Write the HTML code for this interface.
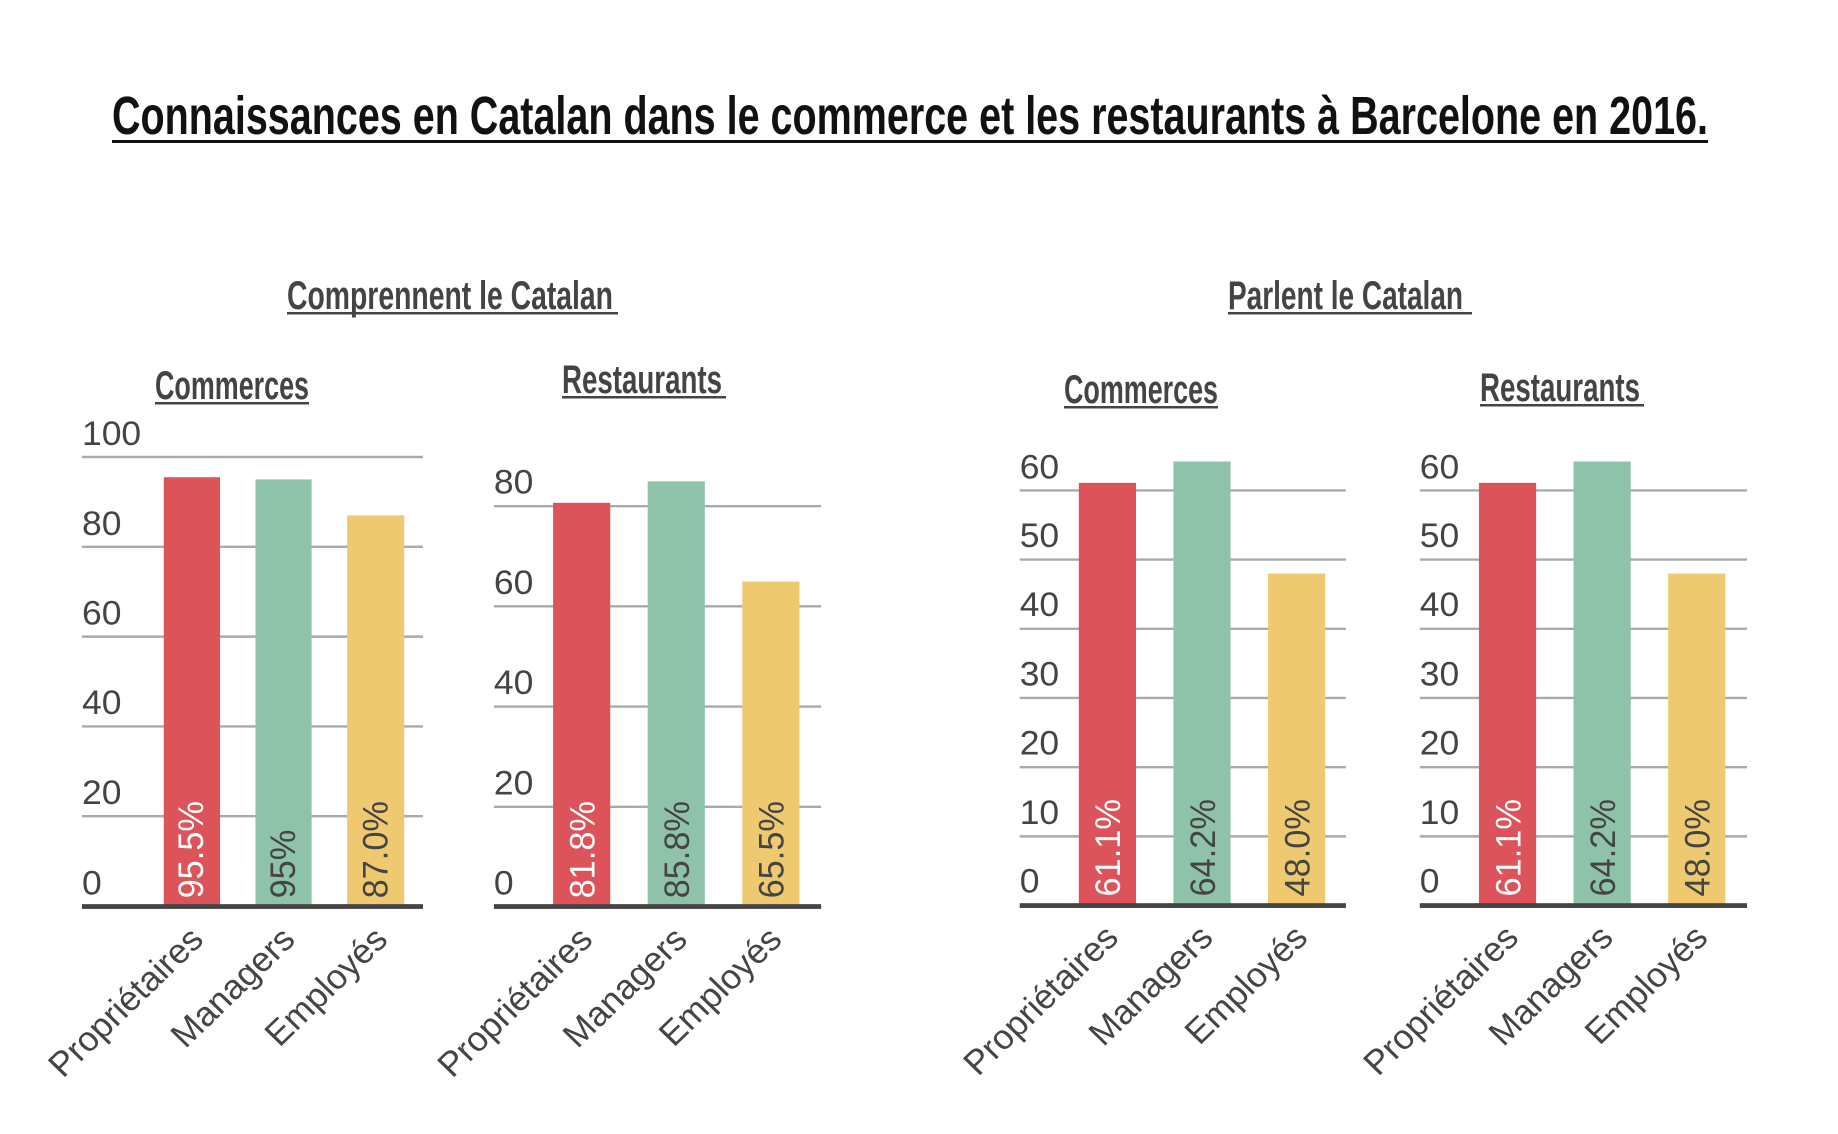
<!DOCTYPE html>
<html><head><meta charset="utf-8"><style>html,body{margin:0;padding:0;background:#fff}svg{display:block}</style></head>
<body>
<svg width="1838" height="1134" viewBox="0 0 1838 1134" xmlns="http://www.w3.org/2000/svg">
<rect width="1838" height="1134" fill="#fff"/>
<text x="112" y="134" font-family="Liberation Sans Narrow, Liberation Sans, sans-serif" font-weight="bold" font-size="54" fill="#111" textLength="1596" lengthAdjust="spacingAndGlyphs">Connaissances en Catalan dans le commerce et les restaurants à Barcelone en 2016.</text>
<rect x="112" y="140" width="1596" height="3" fill="#111"/>

<g font-family="Liberation Sans Narrow, Liberation Sans, sans-serif" font-weight="bold" fill="#444" font-size="40">
<text x="287" y="309" textLength="326" lengthAdjust="spacingAndGlyphs">Comprennent le Catalan</text>
<rect x="287" y="312" width="331" height="2.5" fill="#444"/>
<text x="1228" y="309" textLength="235" lengthAdjust="spacingAndGlyphs">Parlent le Catalan</text>
<rect x="1228" y="312" width="244" height="2.5" fill="#444"/>
<text x="155" y="399" textLength="154" lengthAdjust="spacingAndGlyphs">Commerces</text>
<rect x="155" y="402" width="154" height="2.5" fill="#444"/>
<text x="562" y="393" textLength="160" lengthAdjust="spacingAndGlyphs">Restaurants</text>
<rect x="562" y="396" width="164" height="2.5" fill="#444"/>
<text x="1064" y="403" textLength="154" lengthAdjust="spacingAndGlyphs">Commerces</text>
<rect x="1064" y="406" width="154" height="2.5" fill="#444"/>
<text x="1480" y="401" textLength="160" lengthAdjust="spacingAndGlyphs">Restaurants</text>
<rect x="1480" y="404" width="164" height="2.5" fill="#444"/>
</g>

<g transform="matrix(0.9855 0 0 0.9544 1.19 10.82)">
<g font-family="Liberation Sans, sans-serif" font-size="36" fill="#444">
<!-- Chart 1 -->
<g stroke="#aaa" stroke-width="2.5">
<line x1="82" x2="428" y1="467.5" y2="467.5"/><line x1="82" x2="428" y1="561.6" y2="561.6"/><line x1="82" x2="428" y1="655.7" y2="655.7"/><line x1="82" x2="428" y1="749.8" y2="749.8"/><line x1="82" x2="428" y1="843.9" y2="843.9"/>
</g>
<text x="82" y="455">100</text><text x="82" y="549">80</text><text x="82" y="643">60</text><text x="82" y="737">40</text><text x="82" y="831">20</text><text x="82" y="926">0</text>
<rect x="165" y="488.7" width="57" height="450" fill="#DC535A"/>
<rect x="258" y="491" width="57" height="448" fill="#8FC3A9"/>
<rect x="351" y="528.7" width="58" height="410" fill="#EEC970"/>
<rect x="82" y="936" width="346" height="5" fill="#444"/>
<!-- Chart 2 -->
<g stroke="#aaa" stroke-width="2.5">
<line x1="500" x2="832" y1="519" y2="519"/><line x1="500" x2="832" y1="624" y2="624"/><line x1="500" x2="832" y1="729" y2="729"/><line x1="500" x2="832" y1="834" y2="834"/>
</g>
<text x="500" y="506">80</text><text x="500" y="611">60</text><text x="500" y="716">40</text><text x="500" y="821">20</text><text x="500" y="926">0</text>
<rect x="560" y="515.5" width="58" height="424" fill="#DC535A"/>
<rect x="656" y="493" width="58" height="446" fill="#8FC3A9"/>
<rect x="752" y="598" width="58" height="341" fill="#EEC970"/>
<rect x="500" y="936" width="332" height="5" fill="#444"/>
<g transform="translate(13.5,0)">
<!-- Chart 3 -->
<g stroke="#aaa" stroke-width="2.5">
<line x1="1020" x2="1351" y1="502.5" y2="502.5"/><line x1="1020" x2="1351" y1="575" y2="575"/><line x1="1020" x2="1351" y1="647.5" y2="647.5"/><line x1="1020" x2="1351" y1="720" y2="720"/><line x1="1020" x2="1351" y1="792.5" y2="792.5"/><line x1="1020" x2="1351" y1="865" y2="865"/>
</g>
<text x="1020" y="490">60</text><text x="1020" y="562">50</text><text x="1020" y="634">40</text><text x="1020" y="707">30</text><text x="1020" y="779">20</text><text x="1020" y="852">10</text><text x="1020" y="924">0</text>
<rect x="1080" y="494.6" width="58" height="443.4" fill="#DC535A"/>
<rect x="1176" y="472.2" width="58" height="465.8" fill="#8FC3A9"/>
<rect x="1272" y="589.6" width="58" height="348.4" fill="#EEC970"/>
<rect x="1020" y="935" width="331" height="5" fill="#444"/>
<!-- Chart 4 -->
<g stroke="#aaa" stroke-width="2.5">
<line x1="1426" x2="1758" y1="502.5" y2="502.5"/><line x1="1426" x2="1758" y1="575" y2="575"/><line x1="1426" x2="1758" y1="647.5" y2="647.5"/><line x1="1426" x2="1758" y1="720" y2="720"/><line x1="1426" x2="1758" y1="792.5" y2="792.5"/><line x1="1426" x2="1758" y1="865" y2="865"/>
</g>
<text x="1426" y="490">60</text><text x="1426" y="562">50</text><text x="1426" y="634">40</text><text x="1426" y="707">30</text><text x="1426" y="779">20</text><text x="1426" y="852">10</text><text x="1426" y="924">0</text>
<rect x="1486" y="494.6" width="58" height="443.4" fill="#DC535A"/>
<rect x="1582" y="472.2" width="58" height="465.8" fill="#8FC3A9"/>
<rect x="1678" y="589.6" width="58" height="348.4" fill="#EEC970"/>
<rect x="1426" y="935" width="332" height="5" fill="#444"/>
</g>
</g>

<g font-family="Liberation Sans, sans-serif" font-size="36">
<text transform="translate(205,930) rotate(-90)" fill="#fff">95.5%</text>
<text transform="translate(298,930) rotate(-90)" fill="#444">95%</text>
<text transform="translate(392,930) rotate(-90)" fill="#444">87.0%</text>
<text transform="translate(602,930) rotate(-90)" fill="#fff">81.8%</text>
<text transform="translate(698,930) rotate(-90)" fill="#444">85.8%</text>
<text transform="translate(794,930) rotate(-90)" fill="#444">65.5%</text>
<g transform="translate(13.5,0)">
<text transform="translate(1122,928) rotate(-90)" fill="#fff">61.1%</text>
<text transform="translate(1218,928) rotate(-90)" fill="#444">64.2%</text>
<text transform="translate(1314,928) rotate(-90)" fill="#444">48.0%</text>
<text transform="translate(1528,928) rotate(-90)" fill="#fff">61.1%</text>
<text transform="translate(1624,928) rotate(-90)" fill="#444">64.2%</text>
<text transform="translate(1720,928) rotate(-90)" fill="#444">48.0%</text>
</g>
</g>

<g font-family="Liberation Sans, sans-serif" font-size="36" fill="#444" text-anchor="end">
<text transform="translate(207,975) rotate(-45)">Propriétaires</text>
<text transform="translate(300,975) rotate(-45)">Managers</text>
<text transform="translate(394,975) rotate(-45)">Employés</text>
<text transform="translate(602,975) rotate(-45)">Propriétaires</text>
<text transform="translate(698,975) rotate(-45)">Managers</text>
<text transform="translate(794,975) rotate(-45)">Employés</text>
<g transform="translate(13.5,0)">
<text transform="translate(1122,973) rotate(-45)">Propriétaires</text>
<text transform="translate(1218,973) rotate(-45)">Managers</text>
<text transform="translate(1314,973) rotate(-45)">Employés</text>
<text transform="translate(1528,973) rotate(-45)">Propriétaires</text>
<text transform="translate(1624,973) rotate(-45)">Managers</text>
<text transform="translate(1720,973) rotate(-45)">Employés</text>
</g>
</g>
</g>
</svg>
</body></html>
